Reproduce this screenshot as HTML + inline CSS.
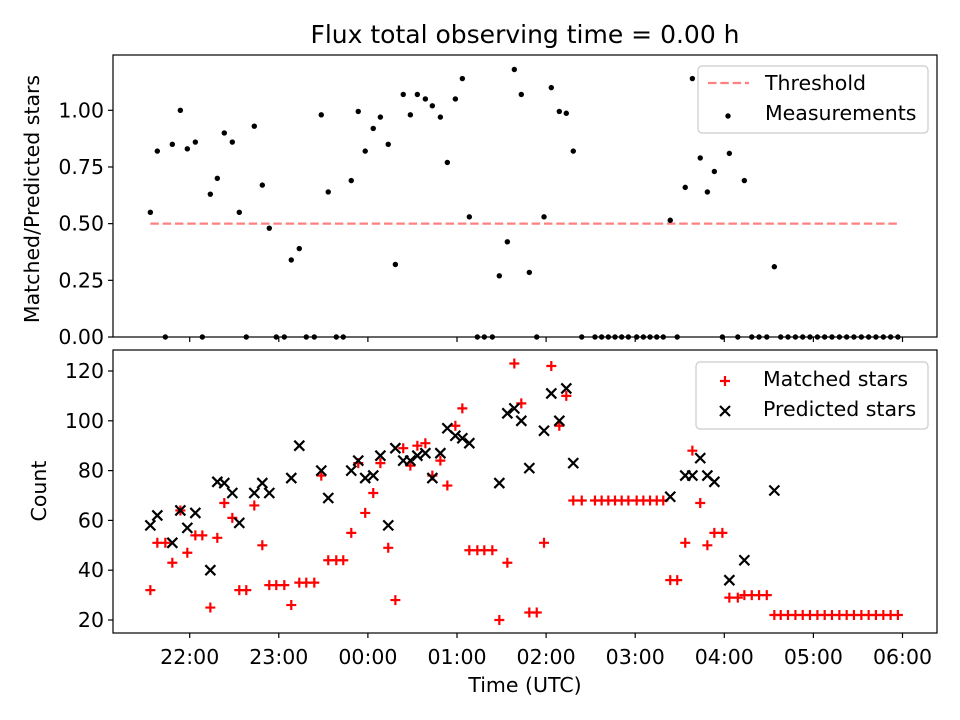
<!DOCTYPE html>
<html><head><meta charset="utf-8">
<style>
html,body{margin:0;padding:0;background:#fff;}
svg{display:block;font-family:"DejaVu Sans","Liberation Sans",sans-serif;}
</style></head>
<body>
<svg id="chart" width="960" height="720" viewBox="0 0 960 720" xmlns="http://www.w3.org/2000/svg">
<rect x="0" y="0" width="960" height="720" fill="#fff"/>
<text x="525" y="43" font-size="25" text-anchor="middle" fill="#000">Flux total observing time = 0.00 h</text>
<g id="gtop"></g>
<g id="gbot"></g>
<text transform="translate(39,199) rotate(-90)" font-size="20.5" text-anchor="middle">Matched/Predicted stars</text>
<text transform="translate(46,491) rotate(-90)" font-size="20.5" text-anchor="middle">Count</text>
<text x="525" y="692" font-size="20.5" text-anchor="middle">Time (UTC)</text>
</svg>
<script>
// minutes after 21:00 UTC
const times = [33.5,38.2,43.6,48.3,53.7,58.4,63.8,68.5,73.9,78.6,83.3,88.7,93.4,98.1,103.5,108.9,113.6,118.3,123.7,128.4,133.8,138.5,143.9,148.6,153.3,158.7,163.4,168.8,173.5,178.2,183.6,188.4,193.7,198.5,203.8,208.6,213.3,218.7,223.4,228.8,233.5,238.9,243.6,248.3,253.7,258.4,263.8,268.5,273.9,278.6,283.3,288.7,293.7,298.6,303.5,308.9,313.6,318.3,324.0,332.9,337.4,341.9,346.4,350.9,355.4,361.0,365.5,370.0,374.5,378.9,383.6,388.3,393.7,398.5,403.8,408.6,413.3,418.7,423.4,429.1,433.5,438.5,443.4,448.6,453.7,458.0,462.9,467.9,472.8,477.7,482.7,487.6,492.5,497.5,502.4,507.3,512.3,517.2,522.1,527.1,532.0,536.9];
const ratios = [0.55,0.82,0,0.85,1.00,0.83,0.86,0,0.63,0.70,0.90,0.86,0.55,0,0.93,0.67,0.48,0,0,0.34,0.39,0,0,0.98,0.64,0,0,0.69,0.995,0.82,0.92,0.97,0.85,0.32,1.07,0.98,1.07,1.05,1.02,0.97,0.77,1.05,1.14,0.53,0,0,0,0.27,0.42,1.18,1.07,0.285,0,0.53,1.10,0.995,0.987,0.82,0,0,0,0,0,0,0,0,0,0,0,0,0.515,0,0.66,1.14,0.79,0.64,0.73,0,0.81,0,0.69,0,0,0,0.31,0,0,0,0,0,0,0,0,0,0,0,0,0,0,0,0,0];
const matched = [32,51,51,43,64,47,54,54,25,53,67,61,32,32,66,50,34,34,34,26,35,35,35,78,44,44,44,55,83,63,71,83,49,28,89,82,90,91,78,84,74,98,105,48,48,48,48,20,43,123,107,23,23,51,122,98,110,68,68,68,68,68,68,68,68,68,68,68,68,68,36,36,51,88,67,50,55,55,29,29,30,30,30,30,22,22,22,22,22,22,22,22,22,22,22,22,22,22,22,22,22,22];
const predicted = [58,62,null,51,64,57,63,null,40,75.5,75,71,59,null,71,75,71,null,null,77,90,null,null,80,69,null,null,80,84,77,78,86,58,89,84,84,86,87,77,87,97,94,93,91,null,null,null,75,103,105,100,81,null,96,111,100,113,83,null,null,null,null,null,null,null,null,null,null,null,null,69.5,null,78,78,85,78,75.5,null,36,null,44,null,null,null,72,null,null,null,null,null,null,null,null,null,null,null,null,null,null,null,null,null];
const threshold = [0.5];
const ratioTicks = [0,0.25,0.5,0.75,1.0];
const countTicks = [20,40,60,80,100,120];
const timeTicks = [60,120,180,240,300,360,420,480,540];
const timeTickLabels = ["22:00","23:00","00:00","01:00","02:00","03:00","04:00","05:00","06:00"];

const NS="http://www.w3.org/2000/svg";
const L=113,R=937;
const T1=55,B1=337,T2=350,B2=633;
const xs=t=>189.7+(t-60)*89.1/60;
const yR=v=>337-v*226.7;
const yC=v=>620-(v-20)*2.49;
function mk(p,tag,at){const e=document.createElementNS(NS,tag);for(const k in at)e.setAttribute(k,at[k]);p.appendChild(e);return e;}
const gTop=document.getElementById('gtop'), gBot=document.getElementById('gbot');
const FS=20.5;

function frame(g,T,B,nm){
  const r=mk(g,'rect',{x:L,y:T,width:R-L,height:B-T,fill:'none',stroke:'#000','stroke-width':1.2});
  
  
  timeTicks.forEach((t)=>{
    const tk=mk(g,'line',{x1:xs(t),x2:xs(t),y1:B,y2:B+5,stroke:'#000','stroke-width':1.2});
    
    
  });
}
frame(gTop,T1,B1,'ratio-plot-area');
frame(gBot,T2,B2,'count-plot-area');
timeTickLabels.forEach((s,i)=>{
  const t=mk(gBot,'text',{x:xs(timeTicks[i]),y:664,'font-size':FS,'text-anchor':'middle'});
  t.textContent=s;
  
  
});
ratioTicks.forEach(v=>{
  const l=mk(gTop,'line',{x1:L-5,x2:L,y1:yR(v),y2:yR(v),stroke:'#000','stroke-width':1.2});
  
  
  const t=mk(gTop,'text',{x:L-9,y:yR(v)+7,'font-size':FS,'text-anchor':'end'});
  t.textContent=v.toFixed(2);
  
  
});
countTicks.forEach(v=>{
  const l=mk(gBot,'line',{x1:L-5,x2:L,y1:yC(v),y2:yC(v),stroke:'#000','stroke-width':1.2});
  
  
  const t=mk(gBot,'text',{x:L-9,y:yC(v)+7,'font-size':FS,'text-anchor':'end'});
  t.textContent=String(v);
  
  
});

const th=mk(gTop,'line',{x1:xs(times[0]),x2:xs(times[times.length-1]),y1:yR(threshold[0]),y2:yR(threshold[0]),stroke:'#ff8080','stroke-width':2.3,'stroke-dasharray':'8.5 3.8'});



times.forEach((t,i)=>{
  const c=mk(gTop,'circle',{cx:xs(t),cy:yR(ratios[i]),r:2.7,fill:'#000'});
  
  
});

function plus(g,cx,cy){
  return mk(g,'path',{d:`M${cx-5},${cy}H${cx+5}M${cx},${cy-5}V${cy+5}`,stroke:'#ff0000','stroke-width':2.2,fill:'none'});
}
function cross(g,cx,cy){
  return mk(g,'path',{d:`M${cx-5},${cy-5}L${cx+5},${cy+5}M${cx-5},${cy+5}L${cx+5},${cy-5}`,stroke:'#000','stroke-width':2.2,fill:'none'});
}
times.forEach((t,i)=>{
  const p=plus(gBot,xs(t),yC(matched[i]));
  
  
});
times.forEach((t,i)=>{
  if(predicted[i]===null)return;
  const p=cross(gBot,xs(t),yC(predicted[i]));
  
  
});

function legendBox(g,x0,y0,w,h,nm){
  const r=mk(g,'rect',{x:x0,y:y0,width:w,height:h,rx:4,fill:'#fff','fill-opacity':0.8,stroke:'#ccc','stroke-width':1.2});
  
  
}
legendBox(gTop,698,66,230,67,'ratio-legend');
const ll=mk(gTop,'line',{x1:708,x2:749,y1:83,y2:83,stroke:'#ff8080','stroke-width':2.3,'stroke-dasharray':'8.5 3.8'});


const t1=mk(gTop,'text',{x:765,y:90,'font-size':FS});t1.textContent='Threshold';


const lc=mk(gTop,'circle',{cx:728,cy:116,r:2.7,fill:'#000'});


const t2=mk(gTop,'text',{x:765,y:120,'font-size':FS});t2.textContent='Measurements';



legendBox(gBot,696,362,232,67,'count-legend');
const lp=plus(gBot,725,381);


const t3=mk(gBot,'text',{x:763,y:386,'font-size':FS});t3.textContent='Matched stars';


const lx=cross(gBot,725,411);


const t4=mk(gBot,'text',{x:763,y:416,'font-size':FS});t4.textContent='Predicted stars';


</script>
</body></html>
